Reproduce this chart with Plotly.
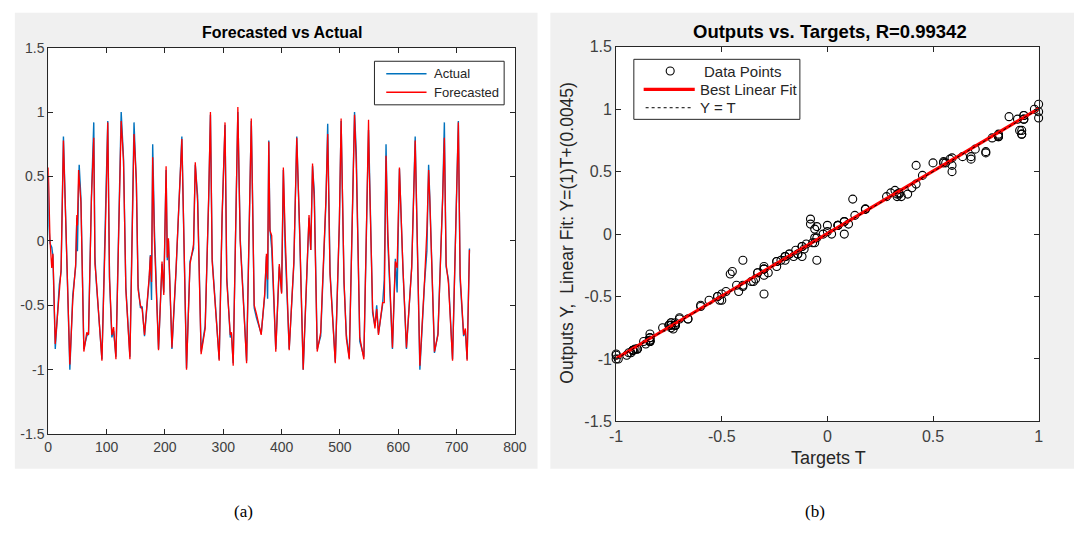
import plotly.graph_objects as go

W, H = 1086, 535

# ---------------- data ----------------
sample_idx = [0, 1, 3, 6, 8, 12, 19, 22, 26, 31, 37, 42, 47, 49, 50, 52, 53, 56, 61, 66, 69, 74, 78, 80, 82,
              92, 98, 102, 105, 109, 112, 116, 125, 129, 133, 136, 140, 147, 149, 151, 154, 158, 161, 165,
              173, 175, 177, 179, 182, 189, 195, 198, 202, 204, 206, 212, 219, 224, 229, 233, 237, 243, 249,
              252, 256, 262, 266, 269, 275, 278, 281, 286, 293, 298, 303, 306, 312, 314, 317, 325, 329, 340,
              348, 350, 353, 357, 365, 371, 374, 376, 378, 380, 383, 390, 396, 400, 403, 406, 413, 421, 426,
              431, 437, 447, 450, 453, 456, 461, 467, 476, 479, 483, 492, 499, 502, 507, 511, 516, 525, 528,
              534, 541, 549, 550, 551, 556, 560, 563, 566, 573, 576, 579, 582, 590, 595, 598, 602, 606, 608,
              614, 623, 629, 632, 637, 645, 649, 652, 654, 662, 668, 676, 679, 682, 686, 693, 699, 703, 706,
              712, 715, 718, 722]

forecasted = [0.57, 0.28, 0.00, -0.21, -0.10, -0.80, -0.36, -0.22, 0.78, 0.07, -0.96, -0.46, -0.18, 0.20, 0.12,
              0.55, 0.50, 0.30, -0.86, -0.71, -0.73, 0.33, 0.80, -0.18, -0.28,
              -0.93, 0.10, 0.92, -0.28, -0.73, -0.67, -0.92, 0.93, 0.62, -0.38, -0.58, -0.92, 0.83, 0.68, 0.47,
              -0.38, -0.50, -0.53, -0.73,
              -0.28, -0.12, -0.32, 0.65, 0.00, -0.85, -0.16, -0.42, 0.58, -0.13, 0.02, -0.83, -0.22, 0.30, 0.79,
              -0.08, -1.00, -0.18, -0.03,
              0.61, 0.30, -0.88, -0.75, -0.68, 0.35, 1.00, -0.16, -0.46, -0.93, 0.20, 0.92, -0.31, -0.73, -0.71,
              -0.97, 1.04, 0.00, -0.95,
              0.95, 0.37, -0.50, -0.57, -0.73, -0.41, -0.10, -0.30, 0.77, 0.08, 0.04, -0.86, -0.18, -0.41, 0.57,
              0.06, -0.85, -0.16, 0.80,
              0.07, -1.00, 0.20, -0.07, 0.60, 0.32, -0.86, -0.71, 0.33, 0.83, -0.26, -0.95, 0.15, 0.95, -0.31,
              -0.76, -0.92, 0.98, 0.60,
              -0.75, -0.92, 0.94, 0.62, 0.40, -0.53, -0.68, -0.53, -0.73, -0.48, -0.48, 0.66, 0.07, -0.83, -0.16,
              -0.21, 0.57, -0.03, -0.21,
              -0.83, -0.21, 0.78, 0.07, -0.97, -0.31, 0.08, 0.55, 0.32, -0.86, -0.73, 0.32, 0.80, -0.18, -0.33,
              -0.93, 0.10, 0.92, -0.26,
              -0.73, -0.68, -0.93, -0.07]

actual = [0.50, 0.12, -0.02, -0.05, -0.12, -0.84, -0.34, -0.24, 0.81, 0.05, -1.00, -0.42, -0.20, 0.18, -0.08,
          0.42, 0.59, 0.33, -0.84, -0.74, -0.72, 0.34, 0.92, -0.12, -0.30,
          -0.92, 0.08, 0.93, -0.30, -0.75, -0.70, -0.90, 1.00, 0.64, -0.36, -0.60, -0.90, 0.92, 0.70, 0.45,
          -0.35, -0.52, -0.51, -0.74,
          -0.30, -0.11, -0.46, 0.75, 0.08, -0.84, -0.18, -0.40, 0.55, -0.15, 0.00, -0.84, -0.24, 0.28, 0.81,
          -0.10, -0.99, -0.16, -0.06,
          0.59, 0.35, -0.86, -0.74, -0.66, 0.32, 0.98, -0.14, -0.48, -0.92, 0.18, 0.90, -0.28, -0.75, -0.72,
          -0.95, 1.00, 0.02, -0.93,
          0.93, 0.40, -0.52, -0.60, -0.72, -0.43, -0.12, -0.45, 0.78, 0.10, -0.06, -0.84, -0.20, -0.40, 0.55,
          -0.05, -0.84, -0.18, 0.81,
          0.05, -1.00, 0.18, -0.07, 0.58, 0.38, -0.84, -0.74, 0.30, 0.91, -0.24, -0.94, 0.13, 0.93, -0.33,
          -0.73, -0.91, 1.00, 0.68,
          -0.78, -0.90, 0.86, 0.68, 0.42, -0.56, -0.66, -0.50, -0.72, -0.50, -0.30, 0.75, 0.00, -0.84, -0.14,
          -0.40, 0.56, -0.05, -0.22,
          -0.84, -0.20, 0.81, 0.05, -1.00, -0.33, -0.08, 0.59, 0.34, -0.87, -0.72, 0.33, 0.92, -0.20, -0.30,
          -0.92, 0.08, 0.93, -0.30,
          -0.74, -0.70, -0.92, -0.06]

left_xticks = [0, 100, 200, 300, 400, 500, 600, 700, 800]
y_ticks = [-1.5, -1, -0.5, 0, 0.5, 1, 1.5]
y_ticktext = ["-1.5", "-1", "-0.5", "0", "0.5", "1", "1.5"]
right_xticks = [-1, -0.5, 0, 0.5, 1]
right_xticktext = ["-1", "-0.5", "0", "0.5", "1"]

fit_slope = 1.0
fit_intercept = 0.0045
r_value = "0.99342"

# ---------------- helpers (page pixel -> paper fraction) ----------------
def px(x):
    return x / W


def py(y):
    return 1 - y / H


FONT = "Liberation Sans"
AX = "#262626"
TICK = "#404040"
BLUE = "#0072BD"
RED = "#FF0000"

fig = go.Figure()

fig.add_trace(go.Scatter(x=sample_idx, y=actual, mode="lines", name="Actual",
                         line=dict(color=BLUE, width=1.4), xaxis="x", yaxis="y"))
fig.add_trace(go.Scatter(x=sample_idx, y=forecasted, mode="lines", name="Forecasted",
                         line=dict(color=RED, width=1.3), xaxis="x", yaxis="y"))

fig.add_trace(go.Scatter(x=actual, y=forecasted, mode="markers", name="Data Points",
                         marker=dict(symbol="circle-open", size=8, color="black", line=dict(width=1.1)),
                         xaxis="x2", yaxis="y2", cliponaxis=False))
fit_x = [right_xticks[0], right_xticks[-1]]
fig.add_trace(go.Scatter(x=fit_x, y=[fit_slope * v + fit_intercept for v in fit_x], mode="lines",
                         name="Best Linear Fit", line=dict(color=RED, width=3.2),
                         xaxis="x2", yaxis="y2"))
fig.add_trace(go.Scatter(x=fit_x, y=fit_x, mode="lines", name="Y = T",
                         line=dict(color="black", width=1, dash="dot"),
                         xaxis="x2", yaxis="y2"))


def axis_style(size):
    return dict(showline=True, linecolor=AX, linewidth=1, mirror="ticks", ticks="inside",
                ticklen=5, tickcolor=AX, showgrid=False, zeroline=False,
                tickfont=dict(family=FONT, size=size, color=TICK), fixedrange=True)


def prect(x0, y0, x1, y1, fill, line_color=None):
    return dict(type="rect", xref="paper", yref="paper", x0=px(x0), x1=px(x1), y0=py(y1), y1=py(y0),
                fillcolor=fill, line=dict(width=1 if line_color else 0, color=line_color or fill),
                layer="below" if not line_color else "above")


def pline(x0, x1, y, color, width, dash="solid"):
    return dict(type="line", xref="paper", yref="paper", x0=px(x0), x1=px(x1), y0=py(y), y1=py(y),
                line=dict(color=color, width=width, dash=dash), layer="above")


def ptext(text, x, y, size, color=AX, xanchor="left", **kw):
    return dict(text=text, xref="paper", yref="paper", x=px(x), y=py(y), xanchor=xanchor, yanchor="middle",
                showarrow=False, font=dict(family=kw.pop("family", FONT), size=size, color=color), **kw)


shapes = [
    # figure panels
    prect(8, 5, 540, 476, "#f0f0f0"),
    prect(553, 5, 1086, 476, "#f0f0f0"),
    prect(42, 41, 517, 440, "white"),
    prect(620, 40, 1050, 427, "white"),
    # legend (a)
    prect(374, 55, 506, 100, "white", AX),
    pline(386, 427, 68, BLUE, 1.5),
    pline(386, 427, 87, RED, 1.5),
    # legend (b)
    prect(638, 53, 807, 115, "white", AX),
    dict(type="circle", xref="paper", yref="paper", xsizemode="pixel", ysizemode="pixel",
         xanchor=px(675), yanchor=py(65), x0=-4, x1=4, y0=-4, y1=4,
         line=dict(color="black", width=1.1), fillcolor="rgba(0,0,0,0)", layer="above"),
    pline(648, 700, 84, RED, 3.2),
    pline(650, 697, 103, "black", 1, "dot"),
]

annotations = [
    ptext("<b>Forecasted vs Actual</b>", 280, 25, 16, "black", xanchor="center"),
    ptext("<b>Outputs vs. Targets, R=" + r_value + "</b>", 838, 24, 18.5, "black", xanchor="center"),
    ptext("Targets T", 836, 465, 18, xanchor="center"),
    ptext("Outputs Y,\u00a0 Linear Fit: Y=(1)T+(" + str(fit_intercept) + ")", 570, 232, 17.5,
          xanchor="center", textangle=-90),
    ptext("(a)", 241, 520, 17, "black", xanchor="center", family="Liberation Serif"),
    ptext("(b)", 822, 520, 17, "black", xanchor="center", family="Liberation Serif"),
    # legend texts
    ptext("Actual", 433, 68, 13),
    ptext("Forecasted", 433, 87, 13),
    ptext("Data Points", 707, 66, 15),
    ptext("Best Linear Fit", 703, 84, 15),
    ptext("Y = T", 703, 103, 15),
]

fig.update_layout(
    width=W, height=H, autosize=False,
    margin=dict(l=0, r=0, t=0, b=0),
    paper_bgcolor="white", plot_bgcolor="white",
    font=dict(family=FONT, color=AX),
    showlegend=False,
    xaxis=dict(domain=[px(42), px(517)], range=[0, 800], tickvals=left_xticks, anchor="y", **axis_style(14)),
    yaxis=dict(domain=[py(440), py(41)], range=[-1.5, 1.5], tickvals=y_ticks, ticktext=y_ticktext,
               anchor="x", **axis_style(14)),
    xaxis2=dict(domain=[px(620), px(1050)], range=[-1, 1], tickvals=right_xticks, ticktext=right_xticktext,
                anchor="y2", **axis_style(16)),
    yaxis2=dict(domain=[py(427), py(40)], range=[-1.5, 1.5], tickvals=y_ticks, ticktext=y_ticktext,
                anchor="x2", **axis_style(16)),
    shapes=shapes,
    annotations=annotations,
)

# remove the page's default body margin so the 1086x535 figure fills the window exactly
fig.write_html(
    "out.html",
    config={"displayModeBar": False, "staticPlot": True},
    post_script="document.documentElement.style.margin='0';document.body.style.margin='0';"
                "document.documentElement.style.overflow='hidden';document.body.style.overflow='hidden';",
)
